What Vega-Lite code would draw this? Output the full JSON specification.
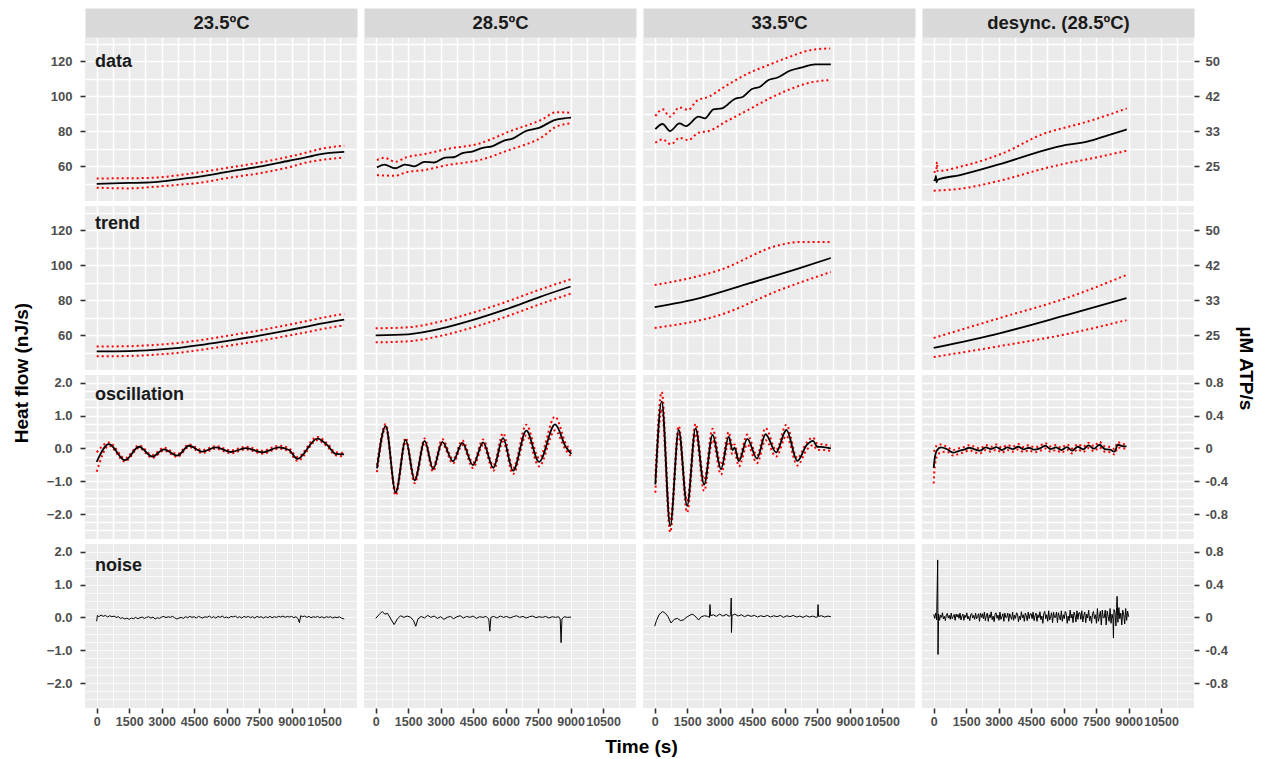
{
"$schema": "https://vega.github.io/schema/vega-lite/v6.json",
"padding": {"left": 12, "top": 13, "right": 5, "bottom": 5},
"background": "#ffffff",
"config": {"font": "Liberation Sans", "view": {"fill": "#ebebeb", "stroke": null}, "axis": {"gridColor": "#ffffff", "labelFont": "Liberation Sans", "titleFont": "Liberation Sans"}},
"bounds": "flush",
"columns": 4,
"spacing": {"row": 5, "column": 7},
"datasets": {
"data1": [
{"s":"m","t":0,"v":50.0},{"s":"m","t":1500,"v":50.5},{"s":"m","t":2650,"v":51.0},{"s":"m","t":3800,"v":52.6},{"s":"m","t":4750,"v":54.1},{"s":"m","t":6110,"v":57.0},{"s":"m","t":7500,"v":59.8},{"s":"m","t":8880,"v":63.2},{"s":"m","t":9820,"v":65.5},{"s":"m","t":10280,"v":66.9},{"s":"m","t":11430,"v":68.3},
{"s":"u","t":0,"v":53.1},{"s":"u","t":1500,"v":53.2},{"s":"u","t":2650,"v":53.5},{"s":"u","t":3800,"v":55.0},{"s":"u","t":4750,"v":56.6},{"s":"u","t":6110,"v":59.3},{"s":"u","t":7500,"v":62.1},{"s":"u","t":8880,"v":65.5},{"s":"u","t":9820,"v":68.3},{"s":"u","t":10280,"v":69.8},{"s":"u","t":11430,"v":71.8},
{"s":"l","t":0,"v":47.8},{"s":"l","t":1500,"v":47.4},{"s":"l","t":2650,"v":48.3},{"s":"l","t":3800,"v":49.5},{"s":"l","t":4750,"v":50.6},{"s":"l","t":6110,"v":53.5},{"s":"l","t":7500,"v":56.0},{"s":"l","t":8880,"v":59.5},{"s":"l","t":9820,"v":62.6},{"s":"l","t":10280,"v":63.5},{"s":"l","t":11430,"v":65.1}
],
"data2": [
{"s":"m","t":60,"v":59.4},{"s":"m","t":400,"v":61.0},{"s":"m","t":900,"v":58.9},{"s":"m","t":1350,"v":61.0},{"s":"m","t":1800,"v":60.0},{"s":"m","t":2250,"v":62.6},{"s":"m","t":2700,"v":62.2},{"s":"m","t":3200,"v":65.0},{"s":"m","t":3600,"v":65.2},{"s":"m","t":4000,"v":67.6},{"s":"m","t":4500,"v":68.6},{"s":"m","t":4900,"v":70.4},{"s":"m","t":5400,"v":71.6},{"s":"m","t":5900,"v":74.6},{"s":"m","t":6350,"v":76.0},{"s":"m","t":6950,"v":80.3},{"s":"m","t":7500,"v":81.8},{"s":"m","t":8300,"v":86.6},{"s":"m","t":8700,"v":87.4},{"s":"m","t":9020,"v":87.8},
{"s":"u","t":60,"v":63.6},{"s":"u","t":400,"v":64.9},{"s":"u","t":900,"v":62.6},{"s":"u","t":1400,"v":65.1},{"s":"u","t":2250,"v":67.0},{"s":"u","t":3300,"v":69.9},{"s":"u","t":4800,"v":73.1},{"s":"u","t":6150,"v":79.8},{"s":"u","t":7700,"v":86.9},{"s":"u","t":8330,"v":90.9},{"s":"u","t":9020,"v":90.6},
{"s":"l","t":60,"v":55.0},{"s":"l","t":900,"v":54.6},{"s":"l","t":1400,"v":56.6},{"s":"l","t":2250,"v":57.9},{"s":"l","t":3300,"v":60.7},{"s":"l","t":4800,"v":63.6},{"s":"l","t":6150,"v":69.3},{"s":"l","t":7700,"v":76.9},{"s":"l","t":8330,"v":82.6},{"s":"l","t":9020,"v":84.6}
],
"data3": [
{"s":"m","t":30,"v":81.3},{"s":"m","t":365,"v":84.2},{"s":"m","t":707,"v":80.2},{"s":"m","t":1145,"v":84.5},{"s":"m","t":1441,"v":83.0},{"s":"m","t":2028,"v":88.4},{"s":"m","t":2323,"v":87.4},{"s":"m","t":2711,"v":92.6},{"s":"m","t":3104,"v":93.1},{"s":"m","t":3690,"v":98.5},{"s":"m","t":4079,"v":99.8},{"s":"m","t":4471,"v":104.0},{"s":"m","t":4864,"v":105.5},{"s":"m","t":5256,"v":109.3},{"s":"m","t":5649,"v":110.6},{"s":"m","t":6236,"v":114.6},{"s":"m","t":6822,"v":116.6},{"s":"m","t":7404,"v":118.3},{"s":"m","t":8134,"v":118.3},
{"s":"u","t":30,"v":88.7},{"s":"u","t":365,"v":92.6},{"s":"u","t":707,"v":88.4},{"s":"u","t":1145,"v":93.7},{"s":"u","t":1540,"v":92.2},{"s":"u","t":1930,"v":97.3},{"s":"u","t":2500,"v":99.8},{"s":"u","t":3280,"v":105.9},{"s":"u","t":4250,"v":112.7},{"s":"u","t":5256,"v":117.9},{"s":"u","t":6236,"v":122.6},{"s":"u","t":7230,"v":126.5},{"s":"u","t":8100,"v":127.4},
{"s":"l","t":30,"v":73.5},{"s":"l","t":365,"v":75.4},{"s":"l","t":750,"v":72.6},{"s":"l","t":1145,"v":76.3},{"s":"l","t":1540,"v":75.0},{"s":"l","t":2028,"v":79.2},{"s":"l","t":2500,"v":80.2},{"s":"l","t":3280,"v":85.5},{"s":"l","t":4250,"v":91.8},{"s":"l","t":5256,"v":98.5},{"s":"l","t":6236,"v":104.0},{"s":"l","t":7230,"v":108.0},{"s":"l","t":8100,"v":109.3}
],
"data4": [
{"s":"m","t":0,"v":52.2},{"s":"m","t":60,"v":52.0},{"s":"m","t":100,"v":54.5},{"s":"m","t":130,"v":50.8},{"s":"m","t":170,"v":52.3},{"s":"m","t":1215,"v":55.0},{"s":"m","t":3178,"v":61.7},{"s":"m","t":5141,"v":69.3},{"s":"m","t":6111,"v":72.2},{"s":"m","t":7081,"v":74.1},{"s":"m","t":8074,"v":77.9},{"s":"m","t":8915,"v":81.1},
{"s":"u","t":0,"v":56.6},{"s":"u","t":120,"v":57.2},{"s":"u","t":150,"v":62.5},{"s":"u","t":180,"v":57.3},{"s":"u","t":1215,"v":59.8},{"s":"u","t":3178,"v":67.4},{"s":"u","t":5141,"v":78.9},{"s":"u","t":6111,"v":82.3},{"s":"u","t":7081,"v":85.5},{"s":"u","t":8915,"v":93.1},
{"s":"l","t":0,"v":46.1},{"s":"l","t":1215,"v":47.2},{"s":"l","t":3178,"v":52.2},{"s":"l","t":5141,"v":58.9},{"s":"l","t":6111,"v":61.7},{"s":"l","t":7081,"v":64.0},{"s":"l","t":8915,"v":68.9}
],
"trend1": [
{"s":"m","t":0,"v":50.8},{"s":"m","t":1500,"v":51.0},{"s":"m","t":2650,"v":51.7},{"s":"m","t":3800,"v":52.9},{"s":"m","t":4750,"v":54.4},{"s":"m","t":6110,"v":57.0},{"s":"m","t":7500,"v":59.8},{"s":"m","t":8880,"v":63.0},{"s":"m","t":9820,"v":65.3},{"s":"m","t":10280,"v":66.5},{"s":"m","t":11430,"v":69.0},
{"s":"u","t":0,"v":53.6},{"s":"u","t":1500,"v":53.8},{"s":"u","t":2650,"v":54.5},{"s":"u","t":3800,"v":55.7},{"s":"u","t":4750,"v":57.2},{"s":"u","t":6110,"v":59.9},{"s":"u","t":7500,"v":62.8},{"s":"u","t":8880,"v":66.1},{"s":"u","t":9820,"v":68.5},{"s":"u","t":10280,"v":69.7},{"s":"u","t":11430,"v":72.3},
{"s":"l","t":0,"v":48.0},{"s":"l","t":1500,"v":48.2},{"s":"l","t":2650,"v":48.9},{"s":"l","t":3800,"v":50.1},{"s":"l","t":4750,"v":51.6},{"s":"l","t":6110,"v":54.1},{"s":"l","t":7500,"v":56.8},{"s":"l","t":8880,"v":59.9},{"s":"l","t":9820,"v":62.1},{"s":"l","t":10280,"v":63.3},{"s":"l","t":11430,"v":65.7}
],
"trend2": [
{"s":"m","t":0,"v":60.0},{"s":"m","t":1500,"v":60.6},{"s":"m","t":3000,"v":63.8},{"s":"m","t":4500,"v":68.8},{"s":"m","t":6000,"v":74.8},{"s":"m","t":7500,"v":81.6},{"s":"m","t":9000,"v":87.9},
{"s":"u","t":0,"v":64.0},{"s":"u","t":1500,"v":64.6},{"s":"u","t":3000,"v":67.9},{"s":"u","t":4500,"v":73.0},{"s":"u","t":6000,"v":79.0},{"s":"u","t":7500,"v":85.8},{"s":"u","t":9000,"v":92.0},
{"s":"l","t":0,"v":56.0},{"s":"l","t":1500,"v":56.6},{"s":"l","t":3000,"v":59.7},{"s":"l","t":4500,"v":64.6},{"s":"l","t":6000,"v":70.6},{"s":"l","t":7500,"v":77.4},{"s":"l","t":9000,"v":83.8}
],
"trend3": [
{"s":"m","t":0,"v":76.1},{"s":"m","t":2078,"v":81.3},{"s":"m","t":4388,"v":89.8},{"s":"m","t":6697,"v":98.4},{"s":"m","t":8134,"v":104.2},
{"s":"u","t":0,"v":88.7},{"s":"u","t":3003,"v":97.3},{"s":"u","t":5775,"v":111.6},{"s":"u","t":6665,"v":113.3},{"s":"u","t":8134,"v":113.3},
{"s":"l","t":0,"v":64.2},{"s":"l","t":3003,"v":71.6},{"s":"l","t":5775,"v":85.9},{"s":"l","t":8134,"v":96.2}
],
"trend4": [
{"s":"m","t":0,"v":52.8},{"s":"m","t":3078,"v":61.3},{"s":"m","t":6129,"v":71.6},{"s":"m","t":8900,"v":81.3},
{"s":"u","t":0,"v":58.5},{"s":"u","t":3078,"v":70.0},{"s":"u","t":6129,"v":81.3},{"s":"u","t":8900,"v":94.5},
{"s":"l","t":0,"v":47.6},{"s":"l","t":3078,"v":53.9},{"s":"l","t":6129,"v":60.7},{"s":"l","t":8900,"v":68.7}
],
"osc1": [
{"s":"m","t":0,"v":-0.41},{"s":"m","t":568,"v":0.13},{"s":"m","t":1307,"v":-0.36},{"s":"m","t":1954,"v":0.05},{"s":"m","t":2568,"v":-0.25},{"s":"m","t":3100,"v":-0.03},{"s":"m","t":3723,"v":-0.22},{"s":"m","t":4263,"v":0.08},{"s":"m","t":4878,"v":-0.1},{"s":"m","t":5497,"v":0.03},{"s":"m","t":6200,"v":-0.11},{"s":"m","t":6882,"v":0.01},{"s":"m","t":7649,"v":-0.12},{"s":"m","t":8420,"v":0.03},{"s":"m","t":8882,"v":-0.05},{"s":"m","t":9266,"v":-0.32},{"s":"m","t":10189,"v":0.3},{"s":"m","t":10651,"v":0.1},{"s":"m","t":11039,"v":-0.17},{"s":"m","t":11423,"v":-0.18},
{"s":"u","t":0,"v":-0.12},{"s":"u","t":568,"v":0.18},{"s":"u","t":1307,"v":-0.3},{"s":"u","t":1954,"v":0.09},{"s":"u","t":2568,"v":-0.2},{"s":"u","t":3100,"v":0.02},{"s":"u","t":3723,"v":-0.17},{"s":"u","t":4263,"v":0.12},{"s":"u","t":4878,"v":-0.05},{"s":"u","t":5497,"v":0.07},{"s":"u","t":6200,"v":-0.06},{"s":"u","t":6882,"v":0.05},{"s":"u","t":7649,"v":-0.07},{"s":"u","t":8420,"v":0.08},{"s":"u","t":8882,"v":0.0},{"s":"u","t":9266,"v":-0.26},{"s":"u","t":10189,"v":0.35},{"s":"u","t":10651,"v":0.15},{"s":"u","t":11039,"v":-0.12},{"s":"u","t":11423,"v":-0.14},
{"s":"l","t":0,"v":-0.71},{"s":"l","t":568,"v":0.08},{"s":"l","t":1307,"v":-0.4},{"s":"l","t":1954,"v":0.01},{"s":"l","t":2568,"v":-0.29},{"s":"l","t":3100,"v":-0.07},{"s":"l","t":3723,"v":-0.26},{"s":"l","t":4263,"v":0.04},{"s":"l","t":4878,"v":-0.14},{"s":"l","t":5497,"v":-0.01},{"s":"l","t":6200,"v":-0.15},{"s":"l","t":6882,"v":-0.03},{"s":"l","t":7649,"v":-0.16},{"s":"l","t":8420,"v":-0.01},{"s":"l","t":8882,"v":-0.09},{"s":"l","t":9266,"v":-0.38},{"s":"l","t":10189,"v":0.25},{"s":"l","t":10651,"v":0.05},{"s":"l","t":11039,"v":-0.21},{"s":"l","t":11423,"v":-0.24}
],
"osc2": [
{"s":"m","t":60,"v":-0.61},{"s":"m","t":462,"v":0.68},{"s":"m","t":924,"v":-1.34},{"s":"m","t":1386,"v":0.26},{"s":"m","t":1801,"v":-0.97},{"s":"m","t":2263,"v":0.23},{"s":"m","t":2647,"v":-0.63},{"s":"m","t":3076,"v":0.2},{"s":"m","t":3570,"v":-0.39},{"s":"m","t":4000,"v":0.17},{"s":"m","t":4494,"v":-0.51},{"s":"m","t":4956,"v":0.18},{"s":"m","t":5432,"v":-0.59},{"s":"m","t":5880,"v":0.31},{"s":"m","t":6342,"v":-0.68},{"s":"m","t":6956,"v":0.54},{"s":"m","t":7543,"v":-0.41},{"s":"m","t":8282,"v":0.73},{"s":"m","t":8776,"v":0.05},{"s":"m","t":9035,"v":-0.17},
{"s":"u","t":60,"v":-0.5},{"s":"u","t":462,"v":0.74},{"s":"u","t":924,"v":-1.28},{"s":"u","t":1386,"v":0.32},{"s":"u","t":1801,"v":-0.9},{"s":"u","t":2263,"v":0.3},{"s":"u","t":2647,"v":-0.56},{"s":"u","t":3076,"v":0.28},{"s":"u","t":3570,"v":-0.33},{"s":"u","t":4000,"v":0.24},{"s":"u","t":4494,"v":-0.44},{"s":"u","t":4956,"v":0.27},{"s":"u","t":5432,"v":-0.52},{"s":"u","t":5880,"v":0.46},{"s":"u","t":6342,"v":-0.6},{"s":"u","t":6956,"v":0.72},{"s":"u","t":7543,"v":-0.3},{"s":"u","t":8282,"v":0.97},{"s":"u","t":8776,"v":0.15},{"s":"u","t":9035,"v":-0.1},
{"s":"l","t":60,"v":-0.72},{"s":"l","t":462,"v":0.62},{"s":"l","t":924,"v":-1.43},{"s":"l","t":1386,"v":0.2},{"s":"l","t":1801,"v":-1.06},{"s":"l","t":2263,"v":0.16},{"s":"l","t":2647,"v":-0.7},{"s":"l","t":3076,"v":0.13},{"s":"l","t":3570,"v":-0.46},{"s":"l","t":4000,"v":0.1},{"s":"l","t":4494,"v":-0.6},{"s":"l","t":4956,"v":0.1},{"s":"l","t":5432,"v":-0.68},{"s":"l","t":5880,"v":0.2},{"s":"l","t":6342,"v":-0.78},{"s":"l","t":6956,"v":0.4},{"s":"l","t":7543,"v":-0.55},{"s":"l","t":8282,"v":0.55},{"s":"l","t":8776,"v":-0.05},{"s":"l","t":9035,"v":-0.25}
],
"osc3": [
{"s":"m","t":30,"v":-1.1},{"s":"m","t":323,"v":1.43},{"s":"m","t":716,"v":-2.36},{"s":"m","t":1109,"v":0.56},{"s":"m","t":1497,"v":-1.75},{"s":"m","t":1889,"v":0.61},{"s":"m","t":2282,"v":-1.1},{"s":"m","t":2674,"v":0.41},{"s":"m","t":3062,"v":-0.63},{"s":"m","t":3418,"v":0.36},{"s":"m","t":3593,"v":-0.05},{"s":"m","t":3690,"v":0.02},{"s":"m","t":3885,"v":-0.39},{"s":"m","t":4277,"v":0.29},{"s":"m","t":4725,"v":-0.31},{"s":"m","t":5118,"v":0.43},{"s":"m","t":5607,"v":-0.12},{"s":"m","t":6079,"v":0.56},{"s":"m","t":6587,"v":-0.38},{"s":"m","t":7016,"v":0.1},{"s":"m","t":7312,"v":0.23},{"s":"m","t":7506,"v":0.05},{"s":"m","t":7801,"v":0.04},{"s":"m","t":8134,"v":0.0},
{"s":"u","t":30,"v":-0.85},{"s":"u","t":323,"v":1.72},{"s":"u","t":716,"v":-2.2},{"s":"u","t":1109,"v":0.68},{"s":"u","t":1497,"v":-1.6},{"s":"u","t":1889,"v":0.75},{"s":"u","t":2282,"v":-0.95},{"s":"u","t":2674,"v":0.6},{"s":"u","t":3062,"v":-0.5},{"s":"u","t":3418,"v":0.5},{"s":"u","t":3593,"v":0.05},{"s":"u","t":3690,"v":0.12},{"s":"u","t":3885,"v":-0.3},{"s":"u","t":4277,"v":0.42},{"s":"u","t":4725,"v":-0.22},{"s":"u","t":5118,"v":0.62},{"s":"u","t":5607,"v":-0.05},{"s":"u","t":6079,"v":0.72},{"s":"u","t":6587,"v":-0.3},{"s":"u","t":7016,"v":0.18},{"s":"u","t":7312,"v":0.33},{"s":"u","t":7506,"v":0.15},{"s":"u","t":7801,"v":0.12},{"s":"u","t":8134,"v":0.08},
{"s":"l","t":30,"v":-1.35},{"s":"l","t":323,"v":1.2},{"s":"l","t":716,"v":-2.55},{"s":"l","t":1109,"v":0.42},{"s":"l","t":1497,"v":-1.95},{"s":"l","t":1889,"v":0.45},{"s":"l","t":2282,"v":-1.3},{"s":"l","t":2674,"v":0.25},{"s":"l","t":3062,"v":-0.8},{"s":"l","t":3418,"v":0.2},{"s":"l","t":3593,"v":-0.18},{"s":"l","t":3690,"v":-0.12},{"s":"l","t":3885,"v":-0.55},{"s":"l","t":4277,"v":0.12},{"s":"l","t":4725,"v":-0.45},{"s":"l","t":5118,"v":0.25},{"s":"l","t":5607,"v":-0.25},{"s":"l","t":6079,"v":0.38},{"s":"l","t":6587,"v":-0.52},{"s":"l","t":7016,"v":-0.05},{"s":"l","t":7312,"v":0.1},{"s":"l","t":7506,"v":-0.05},{"s":"l","t":7801,"v":-0.05},{"s":"l","t":8134,"v":-0.08}
],
"osc4": [
{"s":"m","t":0,"v":-0.59},{"s":"m","t":50,"v":-0.3},{"s":"m","t":150,"v":-0.06},{"s":"m","t":330,"v":0.03},{"s":"m","t":600,"v":-0.02},{"s":"m","t":900,"v":-0.13},{"s":"m","t":1150,"v":-0.08},{"s":"m","t":1400,"v":-0.04},{"s":"m","t":1650,"v":0.02},{"s":"m","t":1900,"v":-0.03},{"s":"m","t":2150,"v":-0.07},{"s":"m","t":2400,"v":0.03},{"s":"m","t":2650,"v":-0.02},{"s":"m","t":2900,"v":0.04},{"s":"m","t":3150,"v":-0.05},{"s":"m","t":3400,"v":0.03},{"s":"m","t":3650,"v":-0.02},{"s":"m","t":3900,"v":0.05},{"s":"m","t":4150,"v":-0.03},{"s":"m","t":4400,"v":0.02},{"s":"m","t":4650,"v":-0.04},{"s":"m","t":4900,"v":0.0},{"s":"m","t":5150,"v":0.08},{"s":"m","t":5400,"v":-0.02},{"s":"m","t":5650,"v":0.03},{"s":"m","t":5900,"v":-0.05},{"s":"m","t":6150,"v":0.04},{"s":"m","t":6400,"v":-0.07},{"s":"m","t":6650,"v":0.05},{"s":"m","t":6900,"v":-0.03},{"s":"m","t":7150,"v":0.09},{"s":"m","t":7400,"v":-0.01},{"s":"m","t":7650,"v":0.11},{"s":"m","t":7900,"v":-0.02},{"s":"m","t":8150,"v":-0.04},{"s":"m","t":8350,"v":-0.1},{"s":"m","t":8500,"v":0.11},{"s":"m","t":8700,"v":0.07},{"s":"m","t":8900,"v":0.06},
{"s":"u","t":0,"v":-0.1},{"s":"u","t":50,"v":-0.05},{"s":"u","t":150,"v":0.1},{"s":"u","t":330,"v":0.12},{"s":"u","t":600,"v":0.05},{"s":"u","t":900,"v":-0.05},{"s":"u","t":1150,"v":0.0},{"s":"u","t":1400,"v":0.04},{"s":"u","t":1650,"v":0.1},{"s":"u","t":1900,"v":0.05},{"s":"u","t":2150,"v":0.0},{"s":"u","t":2400,"v":0.1},{"s":"u","t":2650,"v":0.05},{"s":"u","t":2900,"v":0.12},{"s":"u","t":3150,"v":0.02},{"s":"u","t":3400,"v":0.1},{"s":"u","t":3650,"v":0.05},{"s":"u","t":3900,"v":0.13},{"s":"u","t":4150,"v":0.04},{"s":"u","t":4400,"v":0.1},{"s":"u","t":4650,"v":0.03},{"s":"u","t":4900,"v":0.08},{"s":"u","t":5150,"v":0.16},{"s":"u","t":5400,"v":0.06},{"s":"u","t":5650,"v":0.1},{"s":"u","t":5900,"v":0.02},{"s":"u","t":6150,"v":0.12},{"s":"u","t":6400,"v":0.0},{"s":"u","t":6650,"v":0.13},{"s":"u","t":6900,"v":0.05},{"s":"u","t":7150,"v":0.17},{"s":"u","t":7400,"v":0.07},{"s":"u","t":7650,"v":0.2},{"s":"u","t":7900,"v":0.06},{"s":"u","t":8150,"v":0.04},{"s":"u","t":8350,"v":-0.02},{"s":"u","t":8500,"v":0.19},{"s":"u","t":8700,"v":0.14},{"s":"u","t":8900,"v":0.12},
{"s":"l","t":0,"v":-1.07},{"s":"l","t":50,"v":-0.55},{"s":"l","t":150,"v":-0.25},{"s":"l","t":330,"v":-0.12},{"s":"l","t":600,"v":-0.1},{"s":"l","t":900,"v":-0.22},{"s":"l","t":1150,"v":-0.17},{"s":"l","t":1400,"v":-0.12},{"s":"l","t":1650,"v":-0.06},{"s":"l","t":1900,"v":-0.12},{"s":"l","t":2150,"v":-0.15},{"s":"l","t":2400,"v":-0.05},{"s":"l","t":2650,"v":-0.1},{"s":"l","t":2900,"v":-0.04},{"s":"l","t":3150,"v":-0.13},{"s":"l","t":3400,"v":-0.05},{"s":"l","t":3650,"v":-0.1},{"s":"l","t":3900,"v":-0.03},{"s":"l","t":4150,"v":-0.11},{"s":"l","t":4400,"v":-0.06},{"s":"l","t":4650,"v":-0.12},{"s":"l","t":4900,"v":-0.08},{"s":"l","t":5150,"v":0.0},{"s":"l","t":5400,"v":-0.1},{"s":"l","t":5650,"v":-0.05},{"s":"l","t":5900,"v":-0.13},{"s":"l","t":6150,"v":-0.04},{"s":"l","t":6400,"v":-0.15},{"s":"l","t":6650,"v":-0.03},{"s":"l","t":6900,"v":-0.11},{"s":"l","t":7150,"v":0.01},{"s":"l","t":7400,"v":-0.09},{"s":"l","t":7650,"v":0.03},{"s":"l","t":7900,"v":-0.1},{"s":"l","t":8150,"v":-0.12},{"s":"l","t":8350,"v":-0.18},{"s":"l","t":8500,"v":0.03},{"s":"l","t":8700,"v":0.0},{"s":"l","t":8900,"v":0.0}
],
"noise1": [
{"t":0,"v":-0.12},{"t":30,"v":0.06},{"t":100,"v":0.02},{"t":200,"v":0.07},{"t":300,"v":0.03},{"t":400,"v":0.06},{"t":500,"v":0.01},{"t":600,"v":0.05},{"t":700,"v":0.02},{"t":800,"v":0.04},{"t":900,"v":0.0},{"t":1000,"v":0.02},{"t":1100,"v":-0.03},{"t":1200,"v":-0.01},{"t":1300,"v":-0.05},{"t":1400,"v":-0.02},{"t":1500,"v":-0.06},{"t":1600,"v":-0.02},{"t":1700,"v":-0.04},{"t":1800,"v":0.0},{"t":1900,"v":-0.04},{"t":2000,"v":-0.01},{"t":2100,"v":0.01},{"t":2200,"v":-0.03},{"t":2300,"v":0.0},{"t":2400,"v":0.02},{"t":2500,"v":-0.02},{"t":2600,"v":0.01},{"t":2700,"v":-0.05},{"t":2800,"v":-0.01},{"t":2900,"v":-0.03},{"t":3000,"v":0.01},{"t":3100,"v":0.03},{"t":3200,"v":-0.01},{"t":3300,"v":0.02},{"t":3400,"v":0.0},{"t":3500,"v":0.03},{"t":3600,"v":-0.01},{"t":3700,"v":-0.05},{"t":3800,"v":-0.02},{"t":3900,"v":0.0},{"t":4000,"v":-0.03},{"t":4100,"v":0.02},{"t":4200,"v":-0.01},{"t":4300,"v":0.03},{"t":4400,"v":0.0},{"t":4500,"v":0.02},{"t":4600,"v":-0.02},{"t":4700,"v":0.03},{"t":4800,"v":0.0},{"t":4900,"v":-0.02},{"t":5000,"v":0.02},{"t":5100,"v":0.0},{"t":5200,"v":0.04},{"t":5300,"v":-0.01},{"t":5400,"v":0.02},{"t":5500,"v":-0.02},{"t":5600,"v":0.03},{"t":5700,"v":0.0},{"t":5800,"v":0.04},{"t":5900,"v":-0.01},{"t":6000,"v":0.01},{"t":6100,"v":-0.02},{"t":6200,"v":0.03},{"t":6300,"v":0.01},{"t":6400,"v":0.04},{"t":6500,"v":-0.01},{"t":6600,"v":0.02},{"t":6700,"v":-0.02},{"t":6800,"v":0.03},{"t":6900,"v":0.0},{"t":7000,"v":0.03},{"t":7100,"v":-0.01},{"t":7200,"v":0.02},{"t":7300,"v":-0.02},{"t":7400,"v":0.03},{"t":7500,"v":0.0},{"t":7600,"v":0.02},{"t":7700,"v":-0.02},{"t":7800,"v":0.02},{"t":7900,"v":-0.01},{"t":8000,"v":0.03},{"t":8100,"v":-0.01},{"t":8200,"v":0.02},{"t":8300,"v":0.0},{"t":8400,"v":0.03},{"t":8500,"v":0.01},{"t":8600,"v":0.04},{"t":8700,"v":0.0},{"t":8800,"v":0.03},{"t":8900,"v":0.01},{"t":9000,"v":0.03},{"t":9100,"v":-0.01},{"t":9200,"v":0.02},{"t":9300,"v":-0.04},{"t":9360,"v":-0.16},{"t":9420,"v":0.05},{"t":9500,"v":0.02},{"t":9600,"v":0.04},{"t":9700,"v":0.0},{"t":9800,"v":0.03},{"t":9900,"v":-0.01},{"t":10000,"v":0.02},{"t":10100,"v":0.0},{"t":10200,"v":0.03},{"t":10300,"v":-0.01},{"t":10400,"v":0.02},{"t":10500,"v":-0.02},{"t":10600,"v":0.02},{"t":10700,"v":0.0},{"t":10800,"v":0.02},{"t":10900,"v":-0.02},{"t":11000,"v":0.01},{"t":11100,"v":-0.01},{"t":11200,"v":0.02},{"t":11300,"v":-0.02},{"t":11430,"v":-0.05}
],
"noise2": [
{"t":0,"v":-0.03},{"t":150,"v":0.08},{"t":300,"v":0.18},{"t":420,"v":0.1},{"t":550,"v":0.12},{"t":700,"v":-0.05},{"t":850,"v":-0.22},{"t":1000,"v":-0.05},{"t":1150,"v":0.05},{"t":1300,"v":0.0},{"t":1450,"v":0.04},{"t":1600,"v":0.01},{"t":1750,"v":-0.1},{"t":1850,"v":-0.27},{"t":1950,"v":-0.05},{"t":2100,"v":0.03},{"t":2250,"v":-0.02},{"t":2400,"v":0.06},{"t":2550,"v":0.0},{"t":2700,"v":0.04},{"t":2850,"v":-0.03},{"t":3000,"v":0.02},{"t":3150,"v":-0.06},{"t":3300,"v":0.0},{"t":3450,"v":0.03},{"t":3600,"v":-0.04},{"t":3750,"v":0.02},{"t":3900,"v":0.05},{"t":4050,"v":-0.02},{"t":4200,"v":0.03},{"t":4350,"v":0.0},{"t":4500,"v":0.04},{"t":4650,"v":-0.03},{"t":4800,"v":0.02},{"t":4950,"v":0.0},{"t":5100,"v":0.03},{"t":5220,"v":-0.05},{"t":5270,"v":-0.42},{"t":5320,"v":0.0},{"t":5450,"v":0.03},{"t":5600,"v":-0.02},{"t":5750,"v":0.04},{"t":5900,"v":0.0},{"t":6050,"v":0.03},{"t":6200,"v":-0.02},{"t":6350,"v":0.02},{"t":6500,"v":0.05},{"t":6650,"v":0.0},{"t":6800,"v":0.03},{"t":6950,"v":-0.02},{"t":7100,"v":0.02},{"t":7250,"v":0.04},{"t":7400,"v":-0.01},{"t":7550,"v":0.02},{"t":7700,"v":0.0},{"t":7850,"v":0.03},{"t":8000,"v":-0.02},{"t":8150,"v":0.02},{"t":8300,"v":0.0},{"t":8450,"v":0.02},{"t":8520,"v":-0.05},{"t":8560,"v":-0.77},{"t":8600,"v":-0.05},{"t":8700,"v":0.02},{"t":8850,"v":0.0},{"t":9020,"v":0.01}
],
"noise3": [
{"t":0,"v":-0.27},{"t":80,"v":-0.1},{"t":200,"v":0.08},{"t":365,"v":0.18},{"t":500,"v":0.12},{"t":620,"v":0.02},{"t":753,"v":-0.17},{"t":900,"v":-0.06},{"t":1048,"v":-0.03},{"t":1200,"v":-0.1},{"t":1339,"v":-0.07},{"t":1500,"v":0.02},{"t":1732,"v":0.1},{"t":1850,"v":0.05},{"t":2028,"v":-0.08},{"t":2150,"v":0.02},{"t":2300,"v":0.05},{"t":2450,"v":0.03},{"t":2530,"v":0.0},{"t":2554,"v":0.39},{"t":2580,"v":0.05},{"t":2700,"v":0.08},{"t":2850,"v":0.03},{"t":3000,"v":0.1},{"t":3150,"v":0.04},{"t":3300,"v":0.09},{"t":3450,"v":0.03},{"t":3510,"v":0.08},{"t":3533,"v":0.59},{"t":3545,"v":-0.46},{"t":3570,"v":0.06},{"t":3700,"v":0.1},{"t":3850,"v":0.04},{"t":4000,"v":0.08},{"t":4150,"v":0.02},{"t":4300,"v":0.07},{"t":4450,"v":0.03},{"t":4600,"v":0.06},{"t":4750,"v":0.01},{"t":4900,"v":0.05},{"t":5050,"v":0.02},{"t":5200,"v":0.06},{"t":5350,"v":0.01},{"t":5500,"v":0.05},{"t":5650,"v":0.02},{"t":5800,"v":0.06},{"t":5950,"v":0.0},{"t":6100,"v":0.05},{"t":6250,"v":0.02},{"t":6400,"v":0.06},{"t":6550,"v":0.01},{"t":6700,"v":0.04},{"t":6850,"v":0.0},{"t":7000,"v":0.05},{"t":7150,"v":0.01},{"t":7300,"v":0.04},{"t":7450,"v":0.0},{"t":7520,"v":0.02},{"t":7543,"v":0.39},{"t":7570,"v":0.03},{"t":7700,"v":0.05},{"t":7850,"v":0.01},{"t":8000,"v":0.04},{"t":8134,"v":0.02}
],
"noise4": [
{"t":0,"v":0.09},{"t":45,"v":-0.03},{"t":90,"v":0.13},{"t":135,"v":-0.08},{"t":185,"v":1.75},{"t":200,"v":-1.13},{"t":225,"v":0.1},{"t":270,"v":-0.09},{"t":315,"v":0.07},{"t":360,"v":0.0},{"t":405,"v":0.14},{"t":450,"v":-0.05},{"t":495,"v":0.03},{"t":540,"v":-0.1},{"t":585,"v":0.08},{"t":630,"v":0.12},{"t":675,"v":-0.02},{"t":720,"v":0.06},{"t":765,"v":-0.06},{"t":810,"v":0.13},{"t":855,"v":-0.04},{"t":900,"v":0.02},{"t":945,"v":0.09},{"t":990,"v":-0.09},{"t":1035,"v":0.1},{"t":1080,"v":0.01},
{"t":1125,"v":0.09},{"t":1170,"v":-0.03},{"t":1215,"v":0.13},{"t":1260,"v":-0.08},{"t":1305,"v":0.04},{"t":1350,"v":0.1},{"t":1395,"v":-0.09},{"t":1440,"v":0.07},{"t":1485,"v":0.0},{"t":1530,"v":0.14},{"t":1575,"v":-0.05},{"t":1620,"v":0.03},{"t":1665,"v":-0.1},{"t":1710,"v":0.08},{"t":1755,"v":0.12},{"t":1800,"v":-0.02},{"t":1845,"v":0.06},{"t":1890,"v":-0.06},{"t":1935,"v":0.13},{"t":1980,"v":-0.04},
{"t":2025,"v":0.02},{"t":2070,"v":0.11},{"t":2115,"v":-0.12},{"t":2160,"v":0.13},{"t":2205,"v":0.0},{"t":2250,"v":0.11},{"t":2295,"v":-0.04},{"t":2340,"v":0.16},{"t":2385,"v":-0.1},{"t":2430,"v":0.05},{"t":2475,"v":0.13},{"t":2520,"v":-0.12},{"t":2565,"v":0.08},{"t":2610,"v":-0.01},{"t":2655,"v":0.17},{"t":2700,"v":-0.07},{"t":2745,"v":0.04},{"t":2790,"v":-0.13},{"t":2835,"v":0.1},{"t":2880,"v":0.14},{"t":2925,"v":-0.03},{"t":2970,"v":0.07},{"t":3015,"v":-0.09},{"t":3060,"v":0.16},{"t":3105,"v":-0.06},{"t":3150,"v":0.02},{"t":3195,"v":0.11},{"t":3240,"v":-0.12},{"t":3285,"v":0.13},{"t":3330,"v":0.0},
{"t":3375,"v":0.0},{"t":3420,"v":0.13},{"t":3465,"v":-0.12},{"t":3510,"v":0.11},{"t":3555,"v":0.02},{"t":3600,"v":-0.06},{"t":3645,"v":0.16},{"t":3690,"v":-0.09},{"t":3735,"v":0.07},{"t":3780,"v":-0.03},{"t":3825,"v":0.14},{"t":3870,"v":0.1},{"t":3915,"v":-0.13},{"t":3960,"v":0.04},{"t":4005,"v":-0.07},{"t":4050,"v":0.17},{"t":4095,"v":-0.01},{"t":4140,"v":0.08},{"t":4185,"v":-0.12},{"t":4230,"v":0.13},{"t":4275,"v":0.05},{"t":4320,"v":-0.1},{"t":4365,"v":0.16},{"t":4410,"v":-0.04},{"t":4455,"v":0.11},
{"t":4500,"v":0.11},{"t":4545,"v":-0.04},{"t":4590,"v":0.16},{"t":4635,"v":-0.1},{"t":4680,"v":0.05},{"t":4725,"v":0.13},{"t":4770,"v":-0.12},{"t":4815,"v":0.08},{"t":4860,"v":-0.01},{"t":4905,"v":0.17},{"t":4950,"v":-0.07},{"t":4995,"v":0.04},{"t":5040,"v":-0.18},{"t":5085,"v":0.12},{"t":5130,"v":0.18},{"t":5175,"v":-0.04},{"t":5220,"v":0.08},{"t":5265,"v":-0.12},{"t":5310,"v":0.2},{"t":5355,"v":-0.08},{"t":5400,"v":0.02},{"t":5445,"v":0.14},{"t":5490,"v":-0.16},{"t":5535,"v":0.16},{"t":5580,"v":0.0},
{"t":5625,"v":0.0},{"t":5670,"v":0.16},{"t":5715,"v":-0.16},{"t":5760,"v":0.14},{"t":5805,"v":0.02},{"t":5850,"v":-0.08},{"t":5895,"v":0.2},{"t":5940,"v":-0.12},{"t":5985,"v":0.08},{"t":6030,"v":-0.04},{"t":6075,"v":0.18},{"t":6120,"v":0.12},{"t":6165,"v":-0.18},{"t":6210,"v":0.04},{"t":6255,"v":-0.1},{"t":6300,"v":0.22},{"t":6345,"v":-0.02},{"t":6390,"v":0.1},{"t":6435,"v":-0.16},{"t":6480,"v":0.16},{"t":6525,"v":0.06},{"t":6570,"v":-0.14},{"t":6615,"v":0.2},{"t":6660,"v":-0.06},{"t":6705,"v":0.14},
{"t":6750,"v":0.14},{"t":6795,"v":-0.06},{"t":6840,"v":0.2},{"t":6885,"v":-0.14},{"t":6930,"v":0.06},{"t":6975,"v":0.16},{"t":7020,"v":-0.16},{"t":7065,"v":0.1},{"t":7110,"v":-0.02},{"t":7155,"v":0.22},{"t":7200,"v":-0.1},{"t":7245,"v":0.04},{"t":7290,"v":-0.18},{"t":7335,"v":0.12},{"t":7380,"v":0.18},{"t":7425,"v":-0.04},{"t":7470,"v":0.08},{"t":7515,"v":-0.18},{"t":7560,"v":0.27},{"t":7605,"v":-0.12},{"t":7650,"v":0.02},{"t":7695,"v":0.19},{"t":7740,"v":-0.23},{"t":7785,"v":0.22},{"t":7830,"v":-0.01},
{"t":7875,"v":-0.01},{"t":7920,"v":0.22},{"t":7965,"v":-0.23},{"t":8010,"v":0.19},{"t":8055,"v":0.02},{"t":8100,"v":-0.12},{"t":8145,"v":0.27},{"t":8190,"v":-0.18},{"t":8235,"v":0.1},{"t":8280,"v":-0.06},{"t":8300,"v":-0.63},{"t":8325,"v":0.24},{"t":8370,"v":0.16},{"t":8415,"v":-0.26},{"t":8445,"v":0.3},{"t":8470,"v":0.64},{"t":8505,"v":-0.15},{"t":8550,"v":0.3},{"t":8595,"v":-0.04},{"t":8640,"v":0.13},{"t":8685,"v":-0.23},{"t":8730,"v":0.22},{"t":8775,"v":0.08},{"t":8820,"v":-0.2},{"t":8865,"v":0.27},{"t":8910,"v":-0.09},{"t":8955,"v":0.19},{"t":9000,"v":0.02}
]
},
"concat": [
{"width":272,"height":164,"data":{"name":"data1"},
 "encoding":{"x":{"field":"t","type":"quantitative","scale":{"domain":[-540,12020],"nice":false,"zero":false},"axis":{"orient":"top","values":[0,750,1500,2250,3000,3750,4500,5250,6000,6750,7500,8250,9000,9750,10500,11250,12000],"grid":true,"gridWidth":1.5,"ticks":false,"labels":false,"domain":true,"domainColor":"#d9d9d9","domainWidth":29,"offset":14.5,"title":"23.5ºC","titleY":0,"titleBaseline":"middle","titleFontSize":18.5,"titleFontWeight":"bold","titleColor":"#1a1a1a"}},
  "y":{"field":"v","type":"quantitative","scale":{"domain":[40.2,133.9],"nice":false,"zero":false},"axis":{"orient":"left","values":[50,60,70,80,90,100,110,120,130],"grid":true,"gridWidth":1.5,"domain":false,"ticks":true,"tickSize":5,"tickWidth":1.6,"tickColor":"#333333","tickOpacity":{"condition":{"test":"datum.value % 20 == 0 && datum.value >= 60","value":1},"value":0},"labelExpr":"datum.value % 20 == 0 && datum.value >= 60 ? format(datum.value, 'd') : ''","labelFontSize":13,"labelFontWeight":"bold","labelColor":"#4d4d4d","labelPadding":8,"labelOverlap":false,"title":null}}},
 "layer":[
  {"transform":[{"filter":"datum.s != 'm'"}],"mark":{"type":"line","color":"#ff0000","strokeWidth":2,"strokeDash":[2,3],"interpolate":"monotone"},"encoding":{"detail":{"field":"s"}}},
  {"transform":[{"filter":"datum.s == 'm'"}],"mark":{"type":"line","color":"#000000","strokeWidth":1.8,"interpolate":"monotone"},"encoding":{}},
  {"data":{"values":[{"label":"data","t":-79,"v":116.9}]},"mark":{"type":"text","align":"left","baseline":"alphabetic","fontSize":18,"fontWeight":"bold","color":"#1a1a1a"},"encoding":{"text":{"field":"label"}}}
 ]},
{"width":272,"height":164,"data":{"name":"data2"},
 "encoding":{"x":{"field":"t","type":"quantitative","scale":{"domain":[-540,12020],"nice":false,"zero":false},"axis":{"orient":"top","values":[0,750,1500,2250,3000,3750,4500,5250,6000,6750,7500,8250,9000,9750,10500,11250,12000],"grid":true,"gridWidth":1.5,"ticks":false,"labels":false,"domain":true,"domainColor":"#d9d9d9","domainWidth":29,"offset":14.5,"title":"28.5ºC","titleY":0,"titleBaseline":"middle","titleFontSize":18.5,"titleFontWeight":"bold","titleColor":"#1a1a1a"}},
  "y":{"field":"v","type":"quantitative","scale":{"domain":[40.2,133.9],"nice":false,"zero":false},"axis":{"values":[50,60,70,80,90,100,110,120,130],"grid":true,"gridWidth":1.5,"domain":false,"ticks":false,"labels":false,"title":null}}},
 "layer":[
  {"transform":[{"filter":"datum.s != 'm'"}],"mark":{"type":"line","color":"#ff0000","strokeWidth":2,"strokeDash":[2,3],"interpolate":"monotone"},"encoding":{"detail":{"field":"s"}}},
  {"transform":[{"filter":"datum.s == 'm'"}],"mark":{"type":"line","color":"#000000","strokeWidth":1.8,"interpolate":"monotone"},"encoding":{}}
 ]},
{"width":272,"height":164,"data":{"name":"data3"},
 "encoding":{"x":{"field":"t","type":"quantitative","scale":{"domain":[-540,12020],"nice":false,"zero":false},"axis":{"orient":"top","values":[0,750,1500,2250,3000,3750,4500,5250,6000,6750,7500,8250,9000,9750,10500,11250,12000],"grid":true,"gridWidth":1.5,"ticks":false,"labels":false,"domain":true,"domainColor":"#d9d9d9","domainWidth":29,"offset":14.5,"title":"33.5ºC","titleY":0,"titleBaseline":"middle","titleFontSize":18.5,"titleFontWeight":"bold","titleColor":"#1a1a1a"}},
  "y":{"field":"v","type":"quantitative","scale":{"domain":[40.2,133.9],"nice":false,"zero":false},"axis":{"values":[50,60,70,80,90,100,110,120,130],"grid":true,"gridWidth":1.5,"domain":false,"ticks":false,"labels":false,"title":null}}},
 "layer":[
  {"transform":[{"filter":"datum.s != 'm'"}],"mark":{"type":"line","color":"#ff0000","strokeWidth":2,"strokeDash":[2,3],"interpolate":"monotone"},"encoding":{"detail":{"field":"s"}}},
  {"transform":[{"filter":"datum.s == 'm'"}],"mark":{"type":"line","color":"#000000","strokeWidth":1.8,"interpolate":"monotone"},"encoding":{}}
 ]},
{"width":272,"height":164,"data":{"name":"data4"},
 "encoding":{"x":{"field":"t","type":"quantitative","scale":{"domain":[-540,12020],"nice":false,"zero":false},"axis":{"orient":"top","values":[0,750,1500,2250,3000,3750,4500,5250,6000,6750,7500,8250,9000,9750,10500,11250,12000],"grid":true,"gridWidth":1.5,"ticks":false,"labels":false,"domain":true,"domainColor":"#d9d9d9","domainWidth":29,"offset":14.5,"title":"desync. (28.5ºC)","titleY":0,"titleBaseline":"middle","titleFontSize":18.5,"titleFontWeight":"bold","titleColor":"#1a1a1a"}},
  "y":{"field":"v","type":"quantitative","scale":{"domain":[40.2,133.9],"nice":false,"zero":false},"axis":{"orient":"right","values":[50,60,70,80,90,100,110,120,130],"grid":true,"gridWidth":1.5,"domain":false,"ticks":true,"tickSize":5,"tickWidth":1.6,"tickColor":"#333333","tickOpacity":{"condition":{"test":"datum.value % 20 == 0 && datum.value >= 60","value":1},"value":0},"labelExpr":"datum.value % 20 == 0 && datum.value >= 60 ? format(datum.value / 2.4, '.0f') : ''","labelFontSize":13,"labelFontWeight":"bold","labelColor":"#4d4d4d","labelPadding":6,"labelOverlap":false,"title":null}}},
 "layer":[
  {"transform":[{"filter":"datum.s != 'm'"}],"mark":{"type":"line","color":"#ff0000","strokeWidth":2,"strokeDash":[2,3],"interpolate":"monotone"},"encoding":{"detail":{"field":"s"}}},
  {"transform":[{"filter":"datum.s == 'm'"}],"mark":{"type":"line","color":"#000000","strokeWidth":1.8,"interpolate":"monotone"},"encoding":{}}
 ]},
{"width":272,"height":164,"data":{"name":"trend1"},
 "encoding":{"x":{"field":"t","type":"quantitative","scale":{"domain":[-540,12020],"nice":false,"zero":false},"axis":{"values":[0,750,1500,2250,3000,3750,4500,5250,6000,6750,7500,8250,9000,9750,10500,11250,12000],"grid":true,"gridWidth":1.5,"ticks":false,"labels":false,"domain":false,"title":null}},
  "y":{"field":"v","type":"quantitative","scale":{"domain":[40.2,133.9],"nice":false,"zero":false},"axis":{"orient":"left","values":[50,60,70,80,90,100,110,120,130],"grid":true,"gridWidth":1.5,"domain":false,"ticks":true,"tickSize":5,"tickWidth":1.6,"tickColor":"#333333","tickOpacity":{"condition":{"test":"datum.value % 20 == 0 && datum.value >= 60","value":1},"value":0},"labelExpr":"datum.value % 20 == 0 && datum.value >= 60 ? format(datum.value, 'd') : ''","labelFontSize":13,"labelFontWeight":"bold","labelColor":"#4d4d4d","labelPadding":8,"labelOverlap":false,"title":"Heat flow (nJ/s)","titleX":-64,"titleY":166.5,"titleAngle":-90,"titleAlign":"center","titleBaseline":"middle","titleFontSize":19,"titleFontWeight":"bold","titleColor":"#000000"}}},
 "layer":[
  {"transform":[{"filter":"datum.s != 'm'"}],"mark":{"type":"line","color":"#ff0000","strokeWidth":2,"strokeDash":[2,3],"interpolate":"monotone"},"encoding":{"detail":{"field":"s"}}},
  {"transform":[{"filter":"datum.s == 'm'"}],"mark":{"type":"line","color":"#000000","strokeWidth":1.8,"interpolate":"monotone"},"encoding":{}},
  {"data":{"values":[{"label":"trend","t":-79,"v":120.7}]},"mark":{"type":"text","align":"left","baseline":"alphabetic","fontSize":18,"fontWeight":"bold","color":"#1a1a1a"},"encoding":{"text":{"field":"label"}}}
 ]},
{"width":272,"height":164,"data":{"name":"trend2"},
 "encoding":{"x":{"field":"t","type":"quantitative","scale":{"domain":[-540,12020],"nice":false,"zero":false},"axis":{"values":[0,750,1500,2250,3000,3750,4500,5250,6000,6750,7500,8250,9000,9750,10500,11250,12000],"grid":true,"gridWidth":1.5,"ticks":false,"labels":false,"domain":false,"title":null}},
  "y":{"field":"v","type":"quantitative","scale":{"domain":[40.2,133.9],"nice":false,"zero":false},"axis":{"values":[50,60,70,80,90,100,110,120,130],"grid":true,"gridWidth":1.5,"domain":false,"ticks":false,"labels":false,"title":null}}},
 "layer":[
  {"transform":[{"filter":"datum.s != 'm'"}],"mark":{"type":"line","color":"#ff0000","strokeWidth":2,"strokeDash":[2,3],"interpolate":"monotone"},"encoding":{"detail":{"field":"s"}}},
  {"transform":[{"filter":"datum.s == 'm'"}],"mark":{"type":"line","color":"#000000","strokeWidth":1.8,"interpolate":"monotone"},"encoding":{}}
 ]},
{"width":272,"height":164,"data":{"name":"trend3"},
 "encoding":{"x":{"field":"t","type":"quantitative","scale":{"domain":[-540,12020],"nice":false,"zero":false},"axis":{"values":[0,750,1500,2250,3000,3750,4500,5250,6000,6750,7500,8250,9000,9750,10500,11250,12000],"grid":true,"gridWidth":1.5,"ticks":false,"labels":false,"domain":false,"title":null}},
  "y":{"field":"v","type":"quantitative","scale":{"domain":[40.2,133.9],"nice":false,"zero":false},"axis":{"values":[50,60,70,80,90,100,110,120,130],"grid":true,"gridWidth":1.5,"domain":false,"ticks":false,"labels":false,"title":null}}},
 "layer":[
  {"transform":[{"filter":"datum.s != 'm'"}],"mark":{"type":"line","color":"#ff0000","strokeWidth":2,"strokeDash":[2,3],"interpolate":"monotone"},"encoding":{"detail":{"field":"s"}}},
  {"transform":[{"filter":"datum.s == 'm'"}],"mark":{"type":"line","color":"#000000","strokeWidth":1.8,"interpolate":"monotone"},"encoding":{}}
 ]},
{"width":272,"height":164,"data":{"name":"trend4"},
 "encoding":{"x":{"field":"t","type":"quantitative","scale":{"domain":[-540,12020],"nice":false,"zero":false},"axis":{"values":[0,750,1500,2250,3000,3750,4500,5250,6000,6750,7500,8250,9000,9750,10500,11250,12000],"grid":true,"gridWidth":1.5,"ticks":false,"labels":false,"domain":false,"title":null}},
  "y":{"field":"v","type":"quantitative","scale":{"domain":[40.2,133.9],"nice":false,"zero":false},"axis":{"orient":"right","values":[50,60,70,80,90,100,110,120,130],"grid":true,"gridWidth":1.5,"domain":false,"ticks":true,"tickSize":5,"tickWidth":1.6,"tickColor":"#333333","tickOpacity":{"condition":{"test":"datum.value % 20 == 0 && datum.value >= 60","value":1},"value":0},"labelExpr":"datum.value % 20 == 0 && datum.value >= 60 ? format(datum.value / 2.4, '.0f') : ''","labelFontSize":13,"labelFontWeight":"bold","labelColor":"#4d4d4d","labelPadding":6,"labelOverlap":false,"title":"µM ATP/s","titleX":51,"titleY":162,"titleAngle":90,"titleAlign":"center","titleBaseline":"middle","titleFontSize":19,"titleFontWeight":"bold","titleColor":"#000000"}}},
 "layer":[
  {"transform":[{"filter":"datum.s != 'm'"}],"mark":{"type":"line","color":"#ff0000","strokeWidth":2,"strokeDash":[2,3],"interpolate":"monotone"},"encoding":{"detail":{"field":"s"}}},
  {"transform":[{"filter":"datum.s == 'm'"}],"mark":{"type":"line","color":"#000000","strokeWidth":1.8,"interpolate":"monotone"},"encoding":{}}
 ]},
{"width":272,"height":164,"data":{"name":"osc1"},
 "encoding":{"x":{"field":"t","type":"quantitative","scale":{"domain":[-540,12020],"nice":false,"zero":false},"axis":{"values":[0,750,1500,2250,3000,3750,4500,5250,6000,6750,7500,8250,9000,9750,10500,11250,12000],"grid":true,"gridWidth":1.5,"ticks":false,"labels":false,"domain":false,"title":null}},
  "y":{"field":"v","type":"quantitative","scale":{"domain":[-2.76,2.235],"nice":false,"zero":false},"axis":{"orient":"left","values":[-2.5,-2.25,-2,-1.75,-1.5,-1.25,-1,-0.75,-0.5,-0.25,0,0.25,0.5,0.75,1,1.25,1.5,1.75,2],"grid":true,"gridWidth":1.5,"domain":false,"ticks":true,"tickSize":5,"tickWidth":1.6,"tickColor":"#333333","tickOpacity":{"condition":{"test":"datum.value % 1 == 0","value":1},"value":0},"labelExpr":"datum.value % 1 == 0 ? format(datum.value, '.1f') : ''","labelFontSize":13,"labelFontWeight":"bold","labelColor":"#4d4d4d","labelPadding":8,"labelOverlap":false,"title":null}}},
 "layer":[
  {"transform":[{"filter":"datum.s != 'm'"}],"mark":{"type":"line","color":"#ff0000","strokeWidth":2,"strokeDash":[2,3],"interpolate":"monotone"},"encoding":{"detail":{"field":"s"}}},
  {"transform":[{"filter":"datum.s == 'm'"}],"mark":{"type":"line","color":"#000000","strokeWidth":1.8,"interpolate":"monotone"},"encoding":{}},
  {"data":{"values":[{"label":"oscillation","t":-79,"v":1.46}]},"mark":{"type":"text","align":"left","baseline":"alphabetic","fontSize":18,"fontWeight":"bold","color":"#1a1a1a"},"encoding":{"text":{"field":"label"}}}
 ]},
{"width":272,"height":164,"data":{"name":"osc2"},
 "encoding":{"x":{"field":"t","type":"quantitative","scale":{"domain":[-540,12020],"nice":false,"zero":false},"axis":{"values":[0,750,1500,2250,3000,3750,4500,5250,6000,6750,7500,8250,9000,9750,10500,11250,12000],"grid":true,"gridWidth":1.5,"ticks":false,"labels":false,"domain":false,"title":null}},
  "y":{"field":"v","type":"quantitative","scale":{"domain":[-2.76,2.235],"nice":false,"zero":false},"axis":{"values":[-2.5,-2.25,-2,-1.75,-1.5,-1.25,-1,-0.75,-0.5,-0.25,0,0.25,0.5,0.75,1,1.25,1.5,1.75,2],"grid":true,"gridWidth":1.5,"domain":false,"ticks":false,"labels":false,"title":null}}},
 "layer":[
  {"transform":[{"filter":"datum.s != 'm'"}],"mark":{"type":"line","color":"#ff0000","strokeWidth":2,"strokeDash":[2,3],"interpolate":"monotone"},"encoding":{"detail":{"field":"s"}}},
  {"transform":[{"filter":"datum.s == 'm'"}],"mark":{"type":"line","color":"#000000","strokeWidth":1.8,"interpolate":"monotone"},"encoding":{}}
 ]},
{"width":272,"height":164,"data":{"name":"osc3"},
 "encoding":{"x":{"field":"t","type":"quantitative","scale":{"domain":[-540,12020],"nice":false,"zero":false},"axis":{"values":[0,750,1500,2250,3000,3750,4500,5250,6000,6750,7500,8250,9000,9750,10500,11250,12000],"grid":true,"gridWidth":1.5,"ticks":false,"labels":false,"domain":false,"title":null}},
  "y":{"field":"v","type":"quantitative","scale":{"domain":[-2.76,2.235],"nice":false,"zero":false},"axis":{"values":[-2.5,-2.25,-2,-1.75,-1.5,-1.25,-1,-0.75,-0.5,-0.25,0,0.25,0.5,0.75,1,1.25,1.5,1.75,2],"grid":true,"gridWidth":1.5,"domain":false,"ticks":false,"labels":false,"title":null}}},
 "layer":[
  {"transform":[{"filter":"datum.s != 'm'"}],"mark":{"type":"line","color":"#ff0000","strokeWidth":2,"strokeDash":[2,3],"interpolate":"monotone"},"encoding":{"detail":{"field":"s"}}},
  {"transform":[{"filter":"datum.s == 'm'"}],"mark":{"type":"line","color":"#000000","strokeWidth":1.8,"interpolate":"monotone"},"encoding":{}}
 ]},
{"width":272,"height":164,"data":{"name":"osc4"},
 "encoding":{"x":{"field":"t","type":"quantitative","scale":{"domain":[-540,12020],"nice":false,"zero":false},"axis":{"values":[0,750,1500,2250,3000,3750,4500,5250,6000,6750,7500,8250,9000,9750,10500,11250,12000],"grid":true,"gridWidth":1.5,"ticks":false,"labels":false,"domain":false,"title":null}},
  "y":{"field":"v","type":"quantitative","scale":{"domain":[-2.76,2.235],"nice":false,"zero":false},"axis":{"orient":"right","values":[-2.5,-2.25,-2,-1.75,-1.5,-1.25,-1,-0.75,-0.5,-0.25,0,0.25,0.5,0.75,1,1.25,1.5,1.75,2],"grid":true,"gridWidth":1.5,"domain":false,"ticks":true,"tickSize":5,"tickWidth":1.6,"tickColor":"#333333","tickOpacity":{"condition":{"test":"datum.value % 1 == 0","value":1},"value":0},"labelExpr":"datum.value % 1 == 0 ? (datum.value == 0 ? '0' : replace(format(datum.value / 2.4, '.1f'), '\u2212', '-')) : ''","labelFontSize":13,"labelFontWeight":"bold","labelColor":"#4d4d4d","labelPadding":6,"labelOverlap":false,"title":null}}},
 "layer":[
  {"transform":[{"filter":"datum.s != 'm'"}],"mark":{"type":"line","color":"#ff0000","strokeWidth":2,"strokeDash":[2,3],"interpolate":"monotone"},"encoding":{"detail":{"field":"s"}}},
  {"transform":[{"filter":"datum.s == 'm'"}],"mark":{"type":"line","color":"#000000","strokeWidth":1.8,"interpolate":"monotone"},"encoding":{}}
 ]},
{"width":272,"height":164,"data":{"name":"noise1"},
 "encoding":{"x":{"field":"t","type":"quantitative","scale":{"domain":[-540,12020],"nice":false,"zero":false},"axis":{"orient":"bottom","values":[0,750,1500,2250,3000,3750,4500,5250,6000,6750,7500,8250,9000,9750,10500,11250,12000],"grid":true,"gridWidth":0.8,"domain":false,"ticks":true,"tickSize":5,"tickWidth":1.6,"tickColor":"#333333","tickOpacity":{"condition":{"test":"datum.value % 1500 == 0 && datum.value <= 10500","value":1},"value":0},"labelExpr":"datum.value % 1500 == 0 && datum.value <= 10500 ? format(datum.value, 'd') : ''","labelFontSize":12.5,"labelFontWeight":"bold","labelColor":"#4d4d4d","labelPadding":2,"labelOverlap":false,"labelFlush":false,"title":null}},
  "y":{"field":"v","type":"quantitative","scale":{"domain":[-2.76,2.235],"nice":false,"zero":false},"axis":{"orient":"left","values":[-2.5,-2.25,-2,-1.75,-1.5,-1.25,-1,-0.75,-0.5,-0.25,0,0.25,0.5,0.75,1,1.25,1.5,1.75,2],"grid":true,"gridWidth":0.8,"domain":false,"ticks":true,"tickSize":5,"tickWidth":1.6,"tickColor":"#333333","tickOpacity":{"condition":{"test":"datum.value % 1 == 0","value":1},"value":0},"labelExpr":"datum.value % 1 == 0 ? format(datum.value, '.1f') : ''","labelFontSize":13,"labelFontWeight":"bold","labelColor":"#4d4d4d","labelPadding":8,"labelOverlap":false,"title":null}}},
 "layer":[
  {"mark":{"type":"line","color":"#000000","strokeWidth":1},"encoding":{}},
  {"data":{"values":[{"label":"noise","t":-79,"v":1.4}]},"mark":{"type":"text","align":"left","baseline":"alphabetic","fontSize":18,"fontWeight":"bold","color":"#1a1a1a"},"encoding":{"text":{"field":"label"}}}
 ]},
{"width":272,"height":164,"data":{"name":"noise2"},
 "encoding":{"x":{"field":"t","type":"quantitative","scale":{"domain":[-540,12020],"nice":false,"zero":false},"axis":{"orient":"bottom","values":[0,750,1500,2250,3000,3750,4500,5250,6000,6750,7500,8250,9000,9750,10500,11250,12000],"grid":true,"gridWidth":0.8,"domain":false,"ticks":true,"tickSize":5,"tickWidth":1.6,"tickColor":"#333333","tickOpacity":{"condition":{"test":"datum.value % 1500 == 0 && datum.value <= 10500","value":1},"value":0},"labelExpr":"datum.value % 1500 == 0 && datum.value <= 10500 ? format(datum.value, 'd') : ''","labelFontSize":12.5,"labelFontWeight":"bold","labelColor":"#4d4d4d","labelPadding":2,"labelOverlap":false,"labelFlush":false,"title":"Time (s)","titleX":277,"titleY":44,"titleAlign":"center","titleBaseline":"alphabetic","titleFontSize":19,"titleFontWeight":"bold","titleColor":"#000000"}},
  "y":{"field":"v","type":"quantitative","scale":{"domain":[-2.76,2.235],"nice":false,"zero":false},"axis":{"values":[-2.5,-2.25,-2,-1.75,-1.5,-1.25,-1,-0.75,-0.5,-0.25,0,0.25,0.5,0.75,1,1.25,1.5,1.75,2],"grid":true,"gridWidth":0.8,"domain":false,"ticks":false,"labels":false,"title":null}}},
 "layer":[
  {"mark":{"type":"line","color":"#000000","strokeWidth":1},"encoding":{}}
 ]},
{"width":272,"height":164,"data":{"name":"noise3"},
 "encoding":{"x":{"field":"t","type":"quantitative","scale":{"domain":[-540,12020],"nice":false,"zero":false},"axis":{"orient":"bottom","values":[0,750,1500,2250,3000,3750,4500,5250,6000,6750,7500,8250,9000,9750,10500,11250,12000],"grid":true,"gridWidth":0.8,"domain":false,"ticks":true,"tickSize":5,"tickWidth":1.6,"tickColor":"#333333","tickOpacity":{"condition":{"test":"datum.value % 1500 == 0 && datum.value <= 10500","value":1},"value":0},"labelExpr":"datum.value % 1500 == 0 && datum.value <= 10500 ? format(datum.value, 'd') : ''","labelFontSize":12.5,"labelFontWeight":"bold","labelColor":"#4d4d4d","labelPadding":2,"labelOverlap":false,"labelFlush":false,"title":null}},
  "y":{"field":"v","type":"quantitative","scale":{"domain":[-2.76,2.235],"nice":false,"zero":false},"axis":{"values":[-2.5,-2.25,-2,-1.75,-1.5,-1.25,-1,-0.75,-0.5,-0.25,0,0.25,0.5,0.75,1,1.25,1.5,1.75,2],"grid":true,"gridWidth":0.8,"domain":false,"ticks":false,"labels":false,"title":null}}},
 "layer":[
  {"mark":{"type":"line","color":"#000000","strokeWidth":1},"encoding":{}}
 ]},
{"width":272,"height":164,"data":{"name":"noise4"},
 "encoding":{"x":{"field":"t","type":"quantitative","scale":{"domain":[-540,12020],"nice":false,"zero":false},"axis":{"orient":"bottom","values":[0,750,1500,2250,3000,3750,4500,5250,6000,6750,7500,8250,9000,9750,10500,11250,12000],"grid":true,"gridWidth":0.8,"domain":false,"ticks":true,"tickSize":5,"tickWidth":1.6,"tickColor":"#333333","tickOpacity":{"condition":{"test":"datum.value % 1500 == 0 && datum.value <= 10500","value":1},"value":0},"labelExpr":"datum.value % 1500 == 0 && datum.value <= 10500 ? format(datum.value, 'd') : ''","labelFontSize":12.5,"labelFontWeight":"bold","labelColor":"#4d4d4d","labelPadding":2,"labelOverlap":false,"labelFlush":false,"title":null}},
  "y":{"field":"v","type":"quantitative","scale":{"domain":[-2.76,2.235],"nice":false,"zero":false},"axis":{"orient":"right","values":[-2.5,-2.25,-2,-1.75,-1.5,-1.25,-1,-0.75,-0.5,-0.25,0,0.25,0.5,0.75,1,1.25,1.5,1.75,2],"grid":true,"gridWidth":0.8,"domain":false,"ticks":true,"tickSize":5,"tickWidth":1.6,"tickColor":"#333333","tickOpacity":{"condition":{"test":"datum.value % 1 == 0","value":1},"value":0},"labelExpr":"datum.value % 1 == 0 ? (datum.value == 0 ? '0' : replace(format(datum.value / 2.4, '.1f'), '\u2212', '-')) : ''","labelFontSize":13,"labelFontWeight":"bold","labelColor":"#4d4d4d","labelPadding":6,"labelOverlap":false,"title":null}}},
 "layer":[
  {"mark":{"type":"line","color":"#000000","strokeWidth":1},"encoding":{}}
 ]}
]
}
